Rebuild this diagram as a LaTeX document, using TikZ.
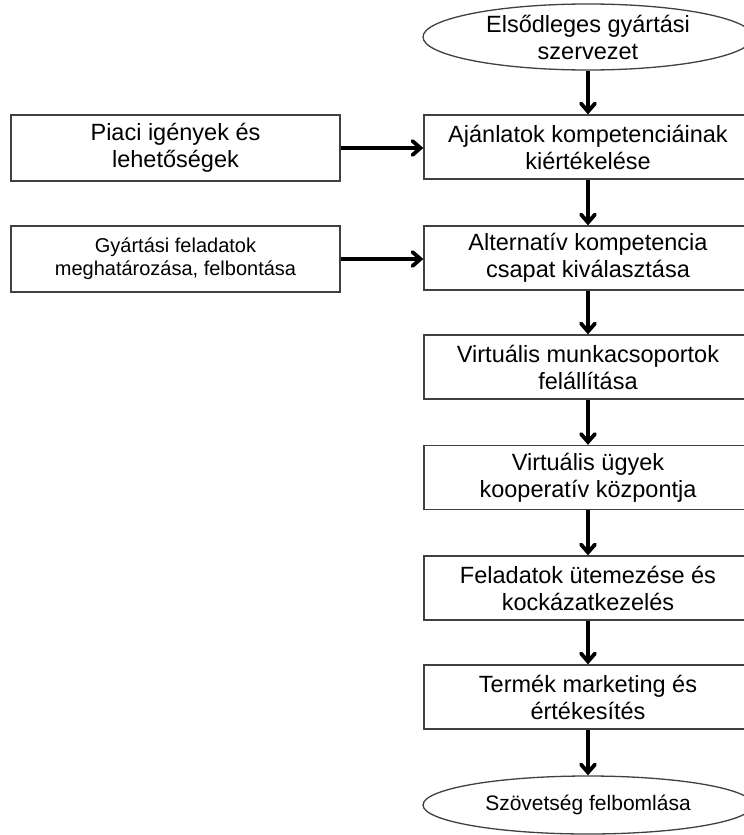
\documentclass[tikz,border=0pt]{standalone}
\usepackage{fontspec}
\setmainfont{Liberation Sans}
\usetikzlibrary{shapes.geometric,arrows.meta}
\begin{document}
\begin{tikzpicture}[x=1pt,y=-1pt,
  frame/.style={draw=black!75, line width=1.3pt, fill=white, inner sep=0pt, align=center},
  stagebox/.style={frame, minimum width=328pt, minimum height=64pt, font=\fontsize{23.5}{27}\selectfont},
  inputbox/.style={frame, minimum width=329pt, minimum height=66pt},
  terminal/.style={frame, ellipse, minimum width=330pt},
  flow/.style={line width=3.8pt, -{Straight Barb[length=8pt,width=14pt,line cap=round]}}
]
\useasboundingbox (0,0) rectangle (744,835);
\clip (0,0) rectangle (744,835);

% main chain on the right
\node[terminal, minimum height=66pt,
      label={[font=\fontsize{23.5}{27}\selectfont, align=center]center:Elsődleges gyártási\\szervezet}]
      (start) at (588,37) {};
\node[stagebox] (s1) at (588,147) {Ajánlatok kompetenciáinak\\kiértékelése};
\node[stagebox] (s2) at (588,258) {Alternatív kompetencia\\csapat kiválasztása};
\node[stagebox] (s3) at (588,367) {Virtuális munkacsoportok\\felállítása};
\node[stagebox] (s4) at (588,477.5) {Virtuális ügyek\\kooperatív központja};
\node[stagebox] (s5) at (588,588) {Feladatok ütemezése és\\kockázatkezelés};
\node[stagebox] (s6) at (588,697) {Termék marketing és\\értékesítés};
\node[terminal, minimum height=58pt,
      label={[font=\fontsize{21}{24}\selectfont]center:Szövetség felbomlása}]
      (end) at (588,805) {};

% inputs on the left
\node[inputbox, font=\fontsize{23.5}{27}\selectfont] (in1) at (175.5,148) {Piaci igények és\\lehetőségek};
\node[inputbox, font=\fontsize{20}{23}\selectfont] (in2) at (175.5,259) {Gyártási feladatok\\meghatározása, felbontása};

% connectors
\draw[flow] (start.south) -- (s1.north);
\draw[flow] (s1) -- (s2);
\draw[flow] (s2) -- (s3);
\draw[flow] (s3) -- (s4);
\draw[flow] (s4) -- (s5);
\draw[flow] (s5) -- (s6);
\draw[flow] (s6.south) -- (end.north);
\draw[flow] (in1.east) -- (in1.east -| s1.west);
\draw[flow] (in2.east) -- (in2.east -| s2.west);
\end{tikzpicture}
\end{document}
